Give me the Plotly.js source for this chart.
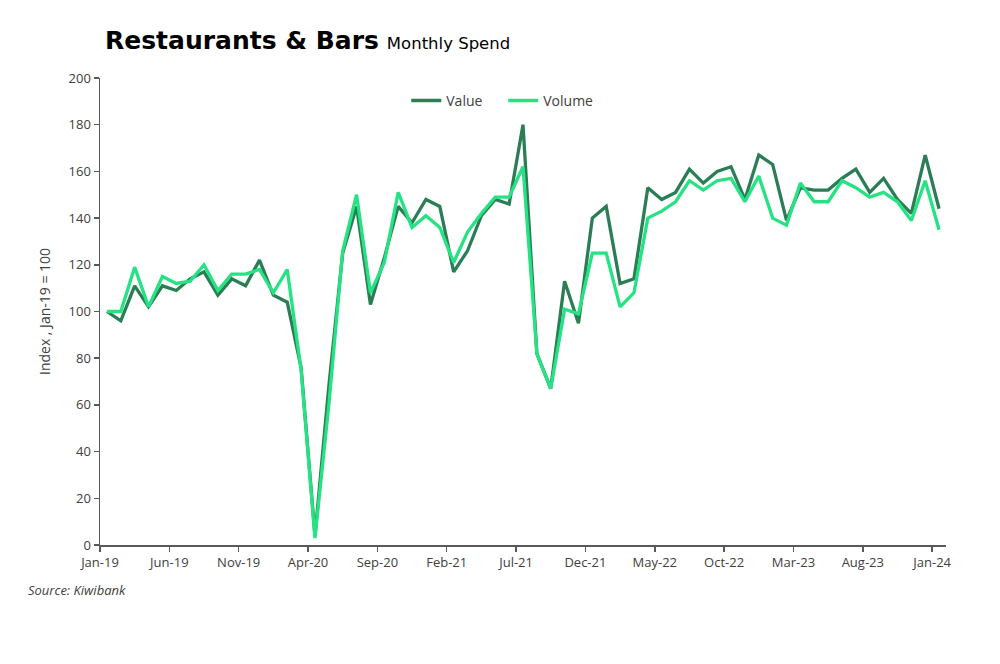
<!DOCTYPE html>
<html>
<head>
<meta charset="utf-8">
<script src="https://cdn.plot.ly/plotly-3.0.1.min.js"></script>
<style>html,body{margin:0;padding:0;background:#fff;}#chart{width:1000px;height:664px;}</style>
</head>
<body>
<div id="chart"></div>
<script>
// Monthly index, Jan-19 = 100 (Jan-19 .. Jan-24)
const months = [
  'Jan-19','Feb-19','Mar-19','Apr-19','May-19','Jun-19','Jul-19','Aug-19','Sep-19','Oct-19','Nov-19','Dec-19',
  'Jan-20','Feb-20','Mar-20','Apr-20','May-20','Jun-20','Jul-20','Aug-20','Sep-20','Oct-20','Nov-20','Dec-20',
  'Jan-21','Feb-21','Mar-21','Apr-21','May-21','Jun-21','Jul-21','Aug-21','Sep-21','Oct-21','Nov-21','Dec-21',
  'Jan-22','Feb-22','Mar-22','Apr-22','May-22','Jun-22','Jul-22','Aug-22','Sep-22','Oct-22','Nov-22','Dec-22',
  'Jan-23','Feb-23','Mar-23','Apr-23','May-23','Jun-23','Jul-23','Aug-23','Sep-23','Oct-23','Nov-23','Dec-23',
  'Jan-24'
];
const valueSeries = [
  100, 96, 111, 102, 111, 109, 114, 117, 107, 114, 111, 122,
  107, 104, 76, 4, 68, 125, 145, 103, 123, 145, 138, 148,
  145, 117, 126, 141, 148, 146, 180, 82, 67, 113, 95, 140,
  145, 112, 114, 153, 148, 151, 161, 155, 160, 162, 148, 167,
  163, 139, 153, 152, 152, 157, 161, 151, 157, 148, 142, 167,
  144
];
const volumeSeries = [
  100, 100, 119, 102, 115, 112, 113, 120, 109, 116, 116, 118,
  108, 118, 75, 3, 60, 126, 150, 108, 121, 151, 136, 141,
  136, 121, 134, 142, 149, 149, 162, 82, 67, 101, 99, 125,
  125, 102, 108, 140, 143, 147, 156, 152, 156, 157, 147, 158,
  140, 137, 155, 147, 147, 156, 153, 149, 151, 147, 139, 156,
  135
];
const tickEvery = 5;
const yTicks = [0, 20, 40, 60, 80, 100, 120, 140, 160, 180, 200];

// months plotted in the middle of each month slot; ticks at month boundaries
const xs = months.map((m, i) => i + 0.5);
const tickVals = [], tickText = [];
months.forEach((m, i) => { if (i % tickEvery === 0) { tickVals.push(i); tickText.push(m); } });

const font = "'Open Sans', 'Noto Sans', sans-serif";

const traces = [
  {x: xs, y: valueSeries, name: 'Value', type: 'scatter', mode: 'lines',
   line: {color: '#2a7d55', width: 3.3}},
  {x: xs, y: volumeSeries, name: 'Volume', type: 'scatter', mode: 'lines',
   line: {color: '#25e283', width: 3.3}}
];

const layout = {
  width: 1000, height: 664,
  margin: {l: 100, r: 54, t: 78, b: 119},
  paper_bgcolor: '#ffffff', plot_bgcolor: '#ffffff',
  font: {family: font, color: '#404040', size: 13},
  title: {
    text: "<b>Restaurants & Bars</b> <span style='font-size:16.5px;font-weight:normal'>Monthly Spend</span>",
    font: {family: "'DejaVu Sans', sans-serif", size: 25, color: '#000000'},
    xref: 'container', yref: 'container', x: 0.105, xanchor: 'left', y: 0.94, yanchor: 'middle'
  },
  showlegend: true,
  legend: {
    orientation: 'h', x: 0.362, xanchor: 'left', y: 0.951, yanchor: 'middle',
    font: {family: font, size: 14, color: '#404040'}, bgcolor: 'rgba(0,0,0,0)',
    entrywidth: 52, entrywidthmode: 'pixels', itemwidth: 30, tracegroupgap: 0
  },
  xaxis: {
    range: [0, months.length], tickmode: 'array', tickvals: tickVals, ticktext: tickText,
    showgrid: false, zeroline: false, showline: true, linecolor: '#595959', linewidth: 1.5,
    ticks: 'outside', ticklen: 5, tickcolor: '#595959', tickwidth: 1.5,
    tickfont: {family: font, size: 13, color: '#404040'}, fixedrange: true
  },
  yaxis: {
    range: [0, 200], tickmode: 'array', tickvals: yTicks,
    showgrid: false, zeroline: false, showline: true, linecolor: '#595959', linewidth: 1.5,
    ticks: 'outside', ticklen: 5, tickcolor: '#595959', tickwidth: 1.5,
    tickfont: {family: font, size: 13, color: '#404040'},
    title: {text: 'Index , Jan-19 = 100', font: {family: font, size: 14, color: '#404040'}, standoff: 14},
    fixedrange: true
  },
  annotations: [
    {text: '<i>Source: Kiwibank</i>', xref: 'paper', yref: 'paper', x: -0.087, xanchor: 'left',
     y: -0.097, yanchor: 'middle', showarrow: false, font: {family: font, size: 13, color: '#404040'}}
  ]
};

Plotly.newPlot('chart', traces, layout, {displayModeBar: false, staticPlot: true});
</script>
</body>
</html>
